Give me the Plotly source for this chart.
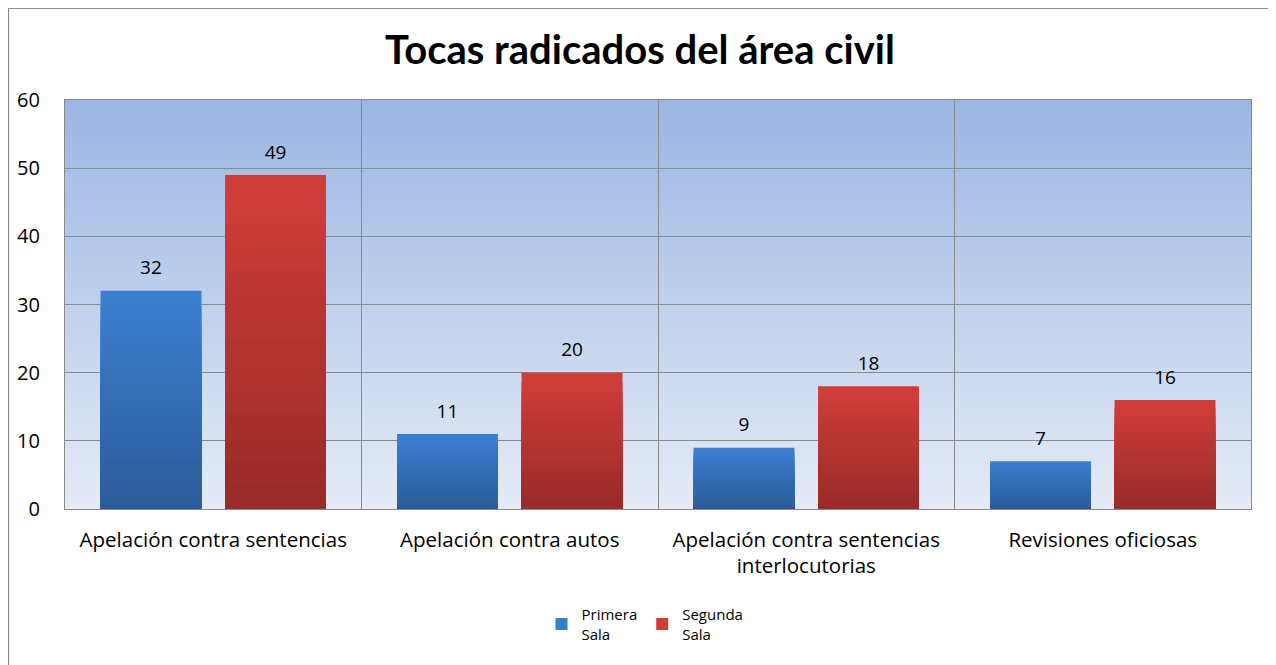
import base64
import plotly.graph_objects as go

# data
categories = ["Apelación contra sentencias", "Apelación contra autos",
              "Apelación contra sentencias<br>interlocutorias", "Revisiones oficiosas"]
primera_sala = [32, 11, 9, 7]
segunda_sala = [49, 20, 18, 16]
series_names = ["Primera<br>Sala", "Segunda<br>Sala"]

FONT = "Open Sans"
# the page puts the figure 8px in from the top-left corner
W, H = 1268, 657
L, R, T, B = 57, 25, 92, 156
PW, PH = W - L - R, H - T - B

# top / bottom colours of the bar gradients
grads = [((58, 126, 208), (44, 92, 154)), ((208, 61, 57), (154, 43, 41))]
N_LAYERS = 14


def mix(c1, c2, t):
    return "rgb(%d,%d,%d)" % tuple(round(a + (b - a) * t) for a, b in zip(c1, c2))


fig = go.Figure()

# each bar is drawn as overlapping layers (full height first, shorter & darker on top)
# so it gets an Excel-like vertical gradient
for s, (vals, name) in enumerate(zip([primera_sala, segunda_sala], series_names)):
    top, bot = grads[s]
    for k in range(N_LAYERS):
        frac = (N_LAYERS - k) / N_LAYERS
        fig.add_trace(go.Bar(
            x=categories,
            y=[v * frac for v in vals],
            name=name,
            offsetgroup=str(s),
            legendgroup=str(s),
            showlegend=(k == 0),
            marker=dict(color=mix(top, bot, k / (N_LAYERS - 1)), line=dict(width=0)),
            hoverinfo="skip" if k else "x+y",
        ))

# value labels, grouped like the bars (invisible marker gives the gap above the bar)
for s, vals in enumerate([primera_sala, segunda_sala]):
    fig.add_trace(go.Scatter(
        x=categories, y=vals, mode="markers+text", text=[str(v) for v in vals],
        textposition="top center", offsetgroup=str(s),
        marker=dict(size=17, opacity=0),
        textfont=dict(family=FONT, size=19, color="#000000"),
        cliponaxis=False, showlegend=False, hoverinfo="skip",
    ))

# plot area gradient background (svg image stretched over the plot area)
svg = ('<svg xmlns="http://www.w3.org/2000/svg" width="100" height="100" preserveAspectRatio="none">'
       '<defs><linearGradient id="g" x1="0" y1="0" x2="0" y2="1">'
       '<stop offset="0" stop-color="#9bb6e3"/><stop offset="1" stop-color="#e5ebf6"/>'
       '</linearGradient></defs><rect width="100" height="100" fill="url(#g)"/></svg>')
bg_src = "data:image/svg+xml;base64," + base64.b64encode(svg.encode()).decode()

fig.update_layout(
    width=W, height=H,
    margin=dict(l=L, r=R, t=T, b=B, autoexpand=False),
    paper_bgcolor="white",
    plot_bgcolor="rgba(0,0,0,0)",
    barmode="group",
    bargap=0.16,
    bargroupgap=0.19,
    scattermode="group",
    scattergap=0.16,
    title=dict(text="<b>Tocas radicados del área civil</b>", x=(640 - 8 - L) / PW, xref="paper",
               xanchor="center", y=1 - 42 / H, yanchor="middle",
               font=dict(family="Lato", size=40, color="#000000")),
    font=dict(family=FONT, size=20, color="#000000"),
    legend=dict(orientation="h", x=(645 - 8 - L) / PW, xanchor="center",
                y=-(598 - 8 - (H - B)) / PH, yanchor="top",
                font=dict(family=FONT, size=15), itemwidth=30,
                traceorder="normal", tracegroupgap=0, bgcolor="rgba(0,0,0,0)"),
    images=[dict(source=bg_src, xref="paper", yref="paper", x=0, y=1,
                 sizex=1, sizey=1, sizing="stretch", layer="below")],
    shapes=[dict(type="rect", xref="paper", yref="paper",
                 x0=(0.5 - L) / PW, x1=(1300 - L) / PW,
                 y0=-(700 - (H - B)) / PH, y1=((H - B) - 0.5) / PH,
                 line=dict(color="#8c8c8c", width=1.2), fillcolor="rgba(0,0,0,0)",
                 layer="below")],
    showlegend=True,
)

fig.update_xaxes(tickson="boundaries", showgrid=True, gridcolor="#8a8a8a", gridwidth=1.2,
                 showline=True, linecolor="#8a8a8a", linewidth=1.2, mirror=True,
                 ticks="", ticklabelstandoff=12, tickfont=dict(size=20.5))
fig.update_yaxes(range=[0, 60], dtick=10, showgrid=True, gridcolor="#8a8a8a", gridwidth=1.2,
                 showline=True, linecolor="#8a8a8a", linewidth=1.2, mirror=True,
                 zeroline=False, ticks="", ticklabelstandoff=20, tickfont=dict(size=20))

fig.write_html("out.html")
